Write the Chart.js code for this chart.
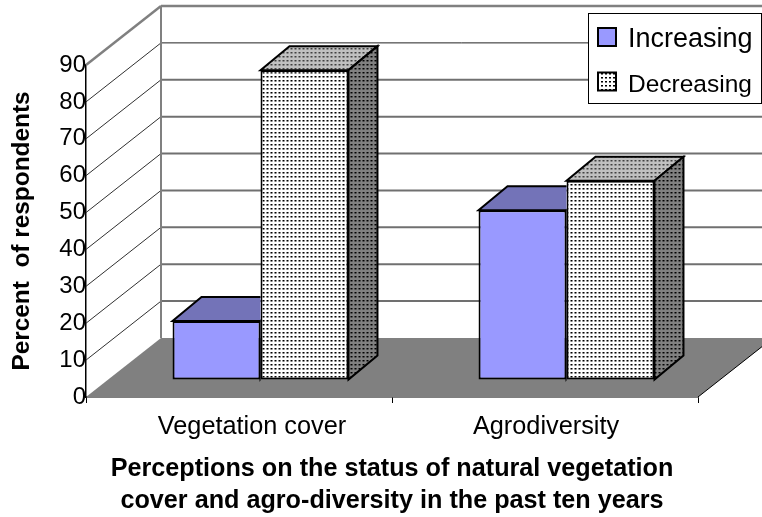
<!DOCTYPE html>
<html><head><meta charset="utf-8">
<style>html,body{margin:0;padding:0;background:#fff;overflow:hidden}canvas{display:block}</style>
<script src="https://cdn.jsdelivr.net/npm/chart.js@4"></script>
</head><body><canvas id="c" width="762" height="517"></canvas>
<script>
const categories = ["Vegetation cover", "Agrodiversity"];
const increasing = [16, 46];
const decreasing = [84, 54];
const seriesNames = ["Increasing", "Decreasing"];
const yAxisTitle = "Percent  of respondents";
const xAxisTitle = ["Perceptions on the status of natural vegetation", "cover and agro-diversity in the past ten years"];

const FONT = '"Liberation Sans", Arial, sans-serif';
function dots(bg, dot, soft){
  const t = document.createElement('canvas'); t.width = 4; t.height = 4;
  const g = t.getContext('2d'); g.fillStyle = bg; g.fillRect(0,0,4,4);
  g.fillStyle = dot; g.fillRect(1,1,2,1);
  g.fillStyle = soft; g.fillRect(1,2,2,1);
  return t;
}
const ctx0 = document.getElementById('c').getContext('2d');
const pFront = ctx0.createPattern(dots('#ffffff','#000000','#777777'),'repeat');
const pTop = ctx0.createPattern(dots('#c0c0c0','#404040','#808080'),'repeat');
const pSide = ctx0.createPattern(dots('#808080','#000000','#444444'),'repeat');
const WALL = {dx:75, dy:-59};       // chart-frame depth
const PLANE = {dx:21.5, dy:-17};    // where the bars stand on the floor
const BAR = {dx:29, dy:-24};        // bar depth
const labelNudge = [13, 1];         // sideways nudge of the category labels

function poly(ctx, pts, fill, stroke, lw){
  ctx.beginPath(); pts.forEach((p,i)=> i?ctx.lineTo(p[0],p[1]):ctx.moveTo(p[0],p[1])); ctx.closePath();
  if(fill){ctx.fillStyle=fill;ctx.fill();}
  if(stroke){ctx.strokeStyle=stroke;ctx.lineWidth=lw||2;ctx.lineJoin='miter';ctx.stroke();}
}
function line(ctx,x1,y1,x2,y2,c,w){ctx.beginPath();ctx.moveTo(x1,y1);ctx.lineTo(x2,y2);ctx.strokeStyle=c;ctx.lineWidth=w;ctx.stroke();}

const frame3d = {
  id:'frame3d',
  beforeDraw(chart){
    chart.scales.x.getLabelItems(chart.chartArea).forEach((it,i)=>{ it.options.translation[0]+=labelNudge[i]; });
  },
  beforeDatasetsDraw(chart){
    const {ctx, chartArea:a, scales:{y}} = chart;
    const y0 = y.getPixelForValue(0);
    ctx.save();
    poly(ctx, [[a.left,y0],[a.right,y0],[a.right+WALL.dx,y0+WALL.dy],[a.left+WALL.dx,y0+WALL.dy]], '#808080');
    y.ticks.forEach(t=>{
      if(t.value===0) return;
      const py = y.getPixelForValue(t.value), top = t.value===y.max, thin = t.value===80;
      line(ctx,a.left,py,a.left+WALL.dx,py+WALL.dy, top?'#808080':'#303030', top?2.5:1);
      line(ctx,a.left+WALL.dx,py+WALL.dy,chart.width,py+WALL.dy, top?'#808080':thin?'#222222':'#707070', top?2.5:thin?1:2);
    });
    line(ctx,a.left+WALL.dx,a.top+WALL.dy,a.left+WALL.dx,y0+WALL.dy,'#808080',2);
    line(ctx,a.right,y0,a.right+WALL.dx,y0+WALL.dy,'#000000',1);
    ctx.restore();
  },
  beforeDatasetDraw(chart){ chart.ctx.save(); chart.ctx.translate(PLANE.dx,PLANE.dy); },
  afterDatasetDraw(chart,args){
    const ctx = chart.ctx, isInc = args.index===0;
    chart.getDatasetMeta(args.index).data.forEach(b=>{
      const l=b.x-b.width/2, r=b.x+b.width/2, t=b.y, bt=b.base;
      ctx.save();
      if(isInc){ ctx.beginPath(); ctx.rect(l-3,t+BAR.dy-3,b.width+3,bt-t-BAR.dy+6); ctx.clip(); }
      poly(ctx,[[l,t],[r,t],[r+BAR.dx,t+BAR.dy],[l+BAR.dx,t+BAR.dy]], isInc?'#7373b8':pTop, '#000',2);
      poly(ctx,[[r,t],[r+BAR.dx,t+BAR.dy],[r+BAR.dx,bt+BAR.dy],[r,bt]], isInc?'#4d4d80':pSide, '#000',2);
      ctx.restore();
    });
    ctx.restore();
  },
  afterDraw(chart){
    const ctx = chart.ctx;
    ctx.save();
    ctx.fillStyle='#fff'; ctx.fillRect(588.5,13.5,173,90);
    ctx.strokeStyle='#000'; ctx.lineWidth=1; ctx.strokeRect(588.5,13.5,173,90);
    const rows=[{n:seriesNames[0],y:37.5,t:40,f:'#9999ff',s:27},{n:seriesNames[1],y:82,t:85,f:pFront,s:24.5}];
    rows.forEach(r=>{
      ctx.fillStyle=r.f; ctx.fillRect(598,r.y-9.5,18,18);
      ctx.strokeStyle='#000'; ctx.lineWidth=2; ctx.strokeRect(598,r.y-9.5,18,18);
      ctx.fillStyle='#000'; ctx.font=r.s+'px '+FONT; ctx.textAlign='left'; ctx.textBaseline='middle';
      ctx.fillText(r.n,628,r.t);
    });
    ctx.restore();
  }
};

new Chart(ctx0,{
  type:'bar',
  plugins:[frame3d],
  data:{labels:categories,datasets:[
    {label:seriesNames[0],data:increasing,backgroundColor:'#9999ff',borderColor:'#000',borderWidth:2,borderSkipped:false,clip:false,categoryPercentage:0.575,barPercentage:1},
    {label:seriesNames[1],data:decreasing,backgroundColor:pFront,borderColor:'#000',borderWidth:2,borderSkipped:false,clip:false,categoryPercentage:0.575,barPercentage:1}
  ]},
  options:{
    responsive:false,animation:false,
    layout:{padding:{top:65,right:64,left:0,bottom:0}},
    plugins:{legend:{display:false},tooltip:{enabled:false}},
    scales:{
      x:{
        afterFit(s){s.height=120;},
        grid:{drawOnChartArea:false,color:'#000',tickLength:6,offset:true},
        border:{color:'#000',width:1.5},
        ticks:{color:'#000',font:{family:FONT,size:25.3},padding:9,maxRotation:0,autoSkip:false},
        title:{display:true,text:xAxisTitle,color:'#000',font:{family:FONT,size:25.2,weight:'bold',lineHeight:1.27},padding:{top:5,bottom:0}}
      },
      y:{
        min:0,max:90,
        afterFit(s){s.width=86;},
        grid:{drawOnChartArea:false,drawTicks:false},
        border:{color:'#000',width:1.5},
        ticks:{color:'#000',stepSize:10,font:{family:FONT,size:24},padding:0},
        title:{display:true,text:yAxisTitle,color:'#000',font:{family:FONT,size:24.4,weight:'bold'},padding:{top:8,bottom:0}}
      }
    }
  }
});
</script></body></html>
